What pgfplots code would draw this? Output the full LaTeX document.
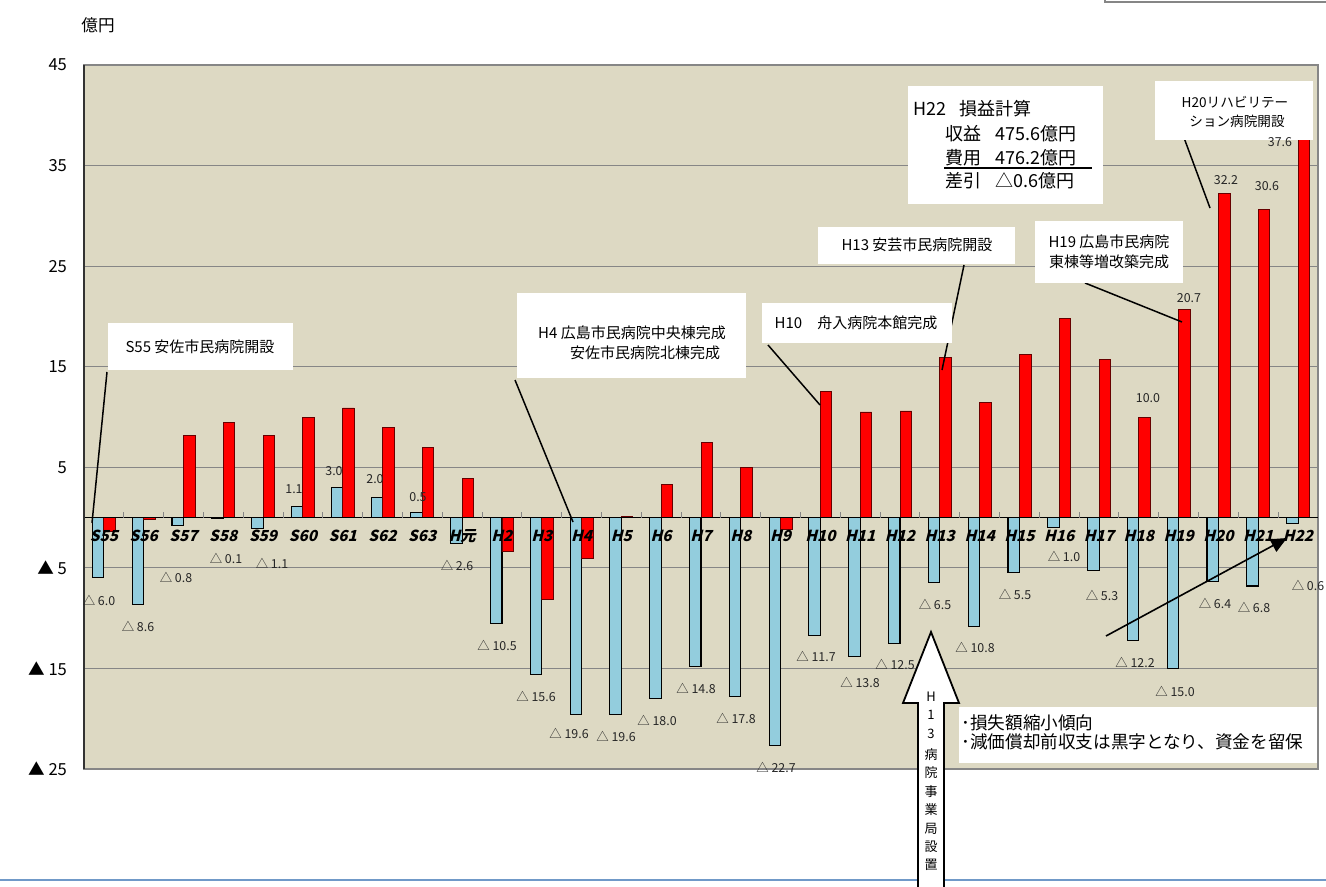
\documentclass[border=0pt]{standalone}
\usepackage{pgfplots}
\pgfplotsset{compat=1.18}
\usepackage{fontspec}
\setmainfont{Noto Sans CJK JP}
\newfontfamily\catfont[FakeSlant=0.25]{Noto Sans CJK JP}
\usetikzlibrary{arrows.meta}
\definecolor{bg}{RGB}{221,217,195}
\definecolor{lblue}{RGB}{147,205,221}
\definecolor{gridc}{RGB}{134,134,134}
\definecolor{bline}{RGB}{112,153,200}
\begin{document}
\begin{tikzpicture}
\useasboundingbox (0,0) rectangle (663pt,-443.5pt);
\begin{axis}[at={(42pt,-384.5pt)}, anchor=south west, scale only axis,
  width=617pt, height=352pt,
  xmin=-0.5, xmax=30.5, ymin=-25, ymax=45,
  axis background/.style={fill=bg},
  ybar=0pt, bar width=5.75pt,
  xtick=\empty,
  ytick={-25,-15,-5,5,15,25,35,45},
  yticklabels={▲ 25,▲ 15,▲ 5,5,15,25,35,45},
  yticklabel style={font=\fontsize{8.3}{8.3}\selectfont, xshift=-5pt},
  ymajorgrids, grid style={gridc, line width=0.6pt},
  major tick length=0pt,
  axis line style={gridc, line width=1.2pt},
  clip=false]
\addplot[fill=lblue, draw=black, line width=0.55pt] coordinates {
(0,-6.0) (1,-8.6) (2,-0.8) (3,-0.1) (4,-1.1) (5,1.1) (6,3.0) (7,2.0) (8,0.5) (9,-2.6)
(10,-10.5) (11,-15.6) (12,-19.6) (13,-19.6) (14,-18.0) (15,-14.8) (16,-17.8) (17,-22.7)
(18,-11.7) (19,-13.8) (20,-12.5) (21,-6.5) (22,-10.8) (23,-5.5) (24,-1.0) (25,-5.3)
(26,-12.2) (27,-15.0) (28,-6.4) (29,-6.8) (30,-0.6)};
\addplot[fill=red, draw=black!60!red, line width=0.45pt] coordinates {
(0,-1.4) (1,-0.2) (2,8.2) (3,9.5) (4,8.2) (5,10.0) (6,10.9) (7,9.0) (8,7.0) (9,3.9)
(10,-3.4) (11,-8.1) (12,-4.1) (13,0.1) (14,3.3) (15,7.5) (16,5.0) (17,-1.2)
(18,12.5) (19,10.5) (20,10.6) (21,15.9) (22,11.4) (23,16.2) (24,19.8) (25,15.7)
(26,10.0) (27,20.7) (28,32.2) (29,30.6) (30,37.6)};
\draw[black, line width=0.8pt] (axis cs:-0.5,0) -- (axis cs:30.5,0);
\end{axis}
\begin{scope}[x=0.5pt,y=-0.5pt]
% left axis border darker
\draw[black!80, line width=1pt] (84,65) -- (84,769);
% boundary ticks
\foreach \k in {1,...,30} \draw[gridc, line width=0.5pt] ({84+39.806*\k},512) -- ({84+39.806*\k},518);
% y unit
\node[font=\fontsize{8.3}{8.3}\selectfont] at (98,25) {億円};
% category labels
\foreach \n [count=\i from 0] in {S55,S56,S57,S58,S59,S60,S61,S62,S63,H元,H2,H3,H4,H5,H6,H7,H8,H9,H10,H11,H12,H13,H14,H15,H16,H17,H18,H19,H20,H21,H22}
  \node[font=\catfont\bfseries\fontsize{7.6}{7.6}\selectfont, inner sep=0pt] at ({84+39.806*(\i+0.5)},536) {\n};
% leader lines
\begin{scope}[line width=0.75pt]
\draw (107,372) -- (92,523);
\draw (515,380) -- (573,522);
\draw (768,345) -- (820,405);
\draw (964,265) -- (942,370);
\draw (1085,283) -- (1182,322);
\draw (1180,127) -- (1210,208);
\end{scope}
% annotation boxes
\fill[white] (108,323) rectangle (293,370);
\node[font=\fontsize{7.5}{7.5}\selectfont] at (200,347) {S55 安佐市民病院開設};
\fill[white] (517,293) rectangle (746,378);
\node[font=\fontsize{7.5}{7.5}\selectfont] at (632,333) {H4 広島市民病院中央棟完成};
\node[font=\fontsize{7.5}{7.5}\selectfont] at (645,353) {安佐市民病院北棟完成};
\fill[white] (762,303) rectangle (952,343);
\node[font=\fontsize{7.5}{7.5}\selectfont] at (856,323) {H10\hspace{1em}舟入病院本館完成};
\fill[white] (818,227) rectangle (1015,264);
\node[font=\fontsize{7.5}{7.5}\selectfont] at (917,245) {H13 安芸市民病院開設};
\fill[white] (1035,221) rectangle (1183,283);
\node[font=\fontsize{7.5}{7.5}\selectfont] at (1109,242) {H19 広島市民病院};
\node[font=\fontsize{7.5}{7.5}\selectfont] at (1109,262) {東棟等増改築完成};
\fill[white] (1155,81) rectangle (1313,140);
\node[font=\fontsize{6.8}{6.8}\selectfont] at (1235,102) {H20リハビリテー};
\node[font=\fontsize{6.8}{6.8}\selectfont] at (1237,121) {ション病院開設};
% data labels
\foreach \x/\y/\t in {99/600/△ 6.0,138/626/△ 8.6,176/577/△ 0.8,226/558/△ 0.1,272/563/△ 1.1,
  294/489/1.1,334/471/3.0,375/479/2.0,418/497/0.5,457/565/△ 2.6,
  497/645/△ 10.5,536/696/△ 15.6,569/733/△ 19.6,616/736/△ 19.6,657/720/△ 18.0,
  696/688/△ 14.8,736/718/△ 17.8,776/767/△ 22.7,816/656/△ 11.7,860/682/△ 13.8,
  895/664/△ 12.5,935/604/△ 6.5,975/647/△ 10.8,1015/594/△ 5.5,1064/556/△ 1.0,
  1102/595/△ 5.3,1135/662/△ 12.2,1175/691/△ 15.0,1215/603/△ 6.4,1254/607/△ 6.8,
  1308/585/△ 0.6,
  1148/398/10.0,1189/298/20.7,1226/180/32.2,1267/186/30.6,1280/142/37.6}
  \node[font=\fontsize{6.2}{6.2}\selectfont, inner sep=0pt, text=black!85] at (\x,\y) {\t};
% big summary box
\fill[white] (908,86) rectangle (1103,204);
\begin{scope}[every node/.style={font=\fontsize{9}{9}\selectfont, anchor=west, inner sep=0pt}]
\node at (913,109) {H22\hspace{0.7em}損益計算};
\node at (945,134) {収益\hspace{0.8em}475.6億円};
\node at (945,158) {費用\hspace{0.8em}476.2億円};
\node at (945,181) {差引\hspace{0.8em}△0.6億円};
\end{scope}
\draw[line width=0.6pt] (944,168) -- (1092,168);
% trend arrow
\draw[line width=0.8pt, -{Triangle[length=8pt,width=7pt]}] (1106,636) -- (1287,538);
% bottom blue line
\draw[bline, line width=1pt] (0,880) -- (1326,880);
% top-right partial frame
\draw[gridc, line width=0.6pt] (1105,-3) -- (1105,2) -- (1330,2);
% note box
\fill[white] (959,707) rectangle (1317,763);
\node[font=\fontsize{8.8}{8.8}\selectfont, anchor=west, inner sep=0pt] at (961,723) {･損失額縮小傾向};
\node[font=\fontsize{8.8}{8.8}\selectfont, anchor=west, inner sep=0pt] at (961,742) {･減価償却前収支は黒字となり、資金を留保};
% hollow arrow
\draw[fill=white, line width=0.9pt] (918,892) -- (918,703) -- (903,703) -- (931,632) -- (959,703) -- (944,703) -- (944,892);
\foreach \c/\yy in {H/697,1/715,3/734,病/755,院/773,事/792,業/810,局/829,設/847,置/865}
  \node[font=\fontsize{6.5}{6.5}\selectfont, inner sep=0pt] at (931,\yy) {\c};
\end{scope}
\end{tikzpicture}
\end{document}
